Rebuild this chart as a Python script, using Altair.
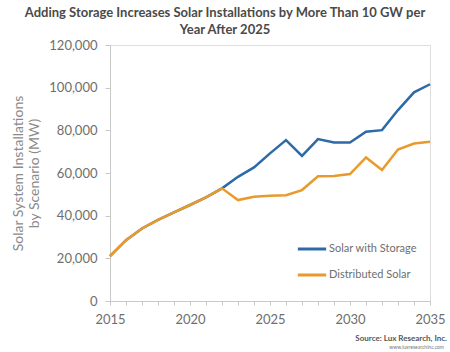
import altair as alt
import pandas as pd

years = list(range(2015, 2036))
storage = [21000, 28500, 34000, 38000, 41500, 45000, 48600, 52800,
           58200, 62600, 69200, 75400, 68000, 75900, 74300, 74300,
           79300, 80100, 89500, 97800, 101600]
distributed = [21000, 28500, 34000, 38000, 41500, 45000, 48600, 52800,
               47300, 48900, 49300, 49600, 52000, 58500, 58600, 59500,
               67300, 61400, 71000, 73800, 74600]
series_names = ["Solar with Storage", "Distributed Solar"]
series_colors = ["#2c6aa8", "#e99a2c"]
y_ticks = [0, 20000, 40000, 60000, 80000, 100000, 120000]
source_lines = ["Source: Lux Research, Inc.", "www.luxresearchinc.com"]

df = pd.DataFrame({
    "year": years * 2,
    "value": storage + distributed,
    "series": [series_names[0]] * len(years) + [series_names[1]] * len(years),
})

FONT = "Lato"
GRAY = "#6e6e6e"

color = alt.Color(
    "series:N",
    scale=alt.Scale(domain=series_names, range=series_colors),
    legend=alt.Legend(
        title=None,
        orient="none",
        legendX=186,
        legendY=188,
        symbolType="stroke",
        symbolSize=800,
        symbolStrokeWidth=3,
        labelFont=FONT,
        labelFontSize=11,
        labelColor=GRAY,
        labelOffset=1,
        rowPadding=4,
        padding=0,
    ),
)

x = alt.X(
    "year:Q",
    scale=alt.Scale(domain=[2015, 2035], nice=False),
    axis=alt.Axis(
        title=None,
        values=years,
        labelExpr="datum.value % 5 == 0 ? datum.value : ''",
        labelOverlap=False,
        labelFlush=False,
        grid=False,
        tickSize=4,
        labelPadding=8,
        labelFont=FONT,
        labelFontSize=13,
        labelColor=GRAY,
        domainColor="#c8c8c8",
        tickColor="#c8c8c8",
    ),
)
y = alt.Y(
    "value:Q",
    scale=alt.Scale(domain=[0, 120000], nice=False),
    axis=alt.Axis(
        title=["Solar System Installations", "by Scenario (MW)"],
        titleFont=FONT,
        titleFontSize=14,
        titleFontWeight="normal",
        titleColor="#8a8a8a",
        titlePadding=7,
        values=y_ticks,
        format=",.0f",
        grid=False,
        tickSize=5,
        labelPadding=8,
        labelFont=FONT,
        labelFontSize=13,
        labelColor=GRAY,
        domainColor="#c8c8c8",
        tickColor="#c8c8c8",
    ),
)

blue = alt.Chart(df[df.series == series_names[0]]).mark_line(strokeWidth=2.5).encode(
    x=x, y=y, color=color)
orange = alt.Chart(df[df.series == series_names[1]]).mark_line(strokeWidth=2.5).encode(
    x=x, y=y, color=color)

src = pd.DataFrame({"t": source_lines, "i": [0, 1]})
source1 = alt.Chart(src[src.i == 0]).mark_text(
    align="right", baseline="middle", font=FONT, fontSize=8, fontWeight="bold", color="#555"
).encode(x=alt.value(337), y=alt.value(294), text="t:N")
source2 = alt.Chart(src[src.i == 1]).mark_text(
    align="right", baseline="middle", font=FONT, fontSize=5, color="#777"
).encode(x=alt.value(334), y=alt.value(302), text="t:N")

chart = alt.layer(blue, orange, source1, source2).properties(
    width=320,
    height=256,
    padding={"left": 110, "top": 45, "right": 20, "bottom": 51},
    autosize=alt.AutoSizeParams(type="none"),
    title=alt.TitleParams(
        text=["Adding Storage Increases Solar Installations by More Than 10 GW per",
              "Year After 2025"],
        font=FONT,
        fontSize=13,
        fontWeight="bold",
        color="#4a4a4a",
        anchor="middle",
        dx=-45,
        offset=2,
        lineHeight=17,
    ),
).configure_view(stroke=None).configure(background="white")

chart.save("out.html", embed_options={"renderer": "svg", "actions": False})
